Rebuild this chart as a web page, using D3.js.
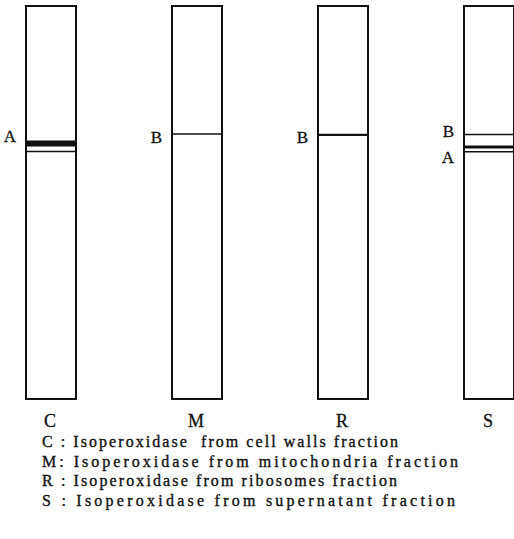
<!DOCTYPE html>
<html>
<head>
<meta charset="utf-8">
<script src="https://cdn.jsdelivr.net/npm/d3@7"></script>
<style>
  html, body { margin: 0; padding: 0; background: #fff; }
  svg { display: block; }
</style>
</head>
<body>
<svg id="chart" width="514" height="539"></svg>
<script>
// ---- data (relative migration distance, % of gel length from top) ----
const lanes = ["C", "M", "R", "S"];
const bandLane = ["C", "C", "M", "R", "S", "S", "S"];
const bandPos = [35.0, 37.0, 32.6, 32.8, 32.7, 35.9, 37.1];
const bandIntensity = [3, 1, 1, 1.4, 1, 1.7, 1];
const bandLabelLane = ["C", "M", "R", "S", "S"];
const bandLabelText = ["A", "B", "B", "B", "A"];
const bandLabelPos = [33.0, 33.3, 33.3, 31.8, 38.5];
const legendLines = [
  "C : Isoperoxidase  from cell walls fraction",
  "M: Isoperoxidase from mitochondria fraction",
  "R : Isoperoxidase from ribosomes fraction",
  "S : Isoperoxidase from supernatant fraction"
];

// ---- layout ----
const FONT = "'Liberation Serif', 'DejaVu Serif', serif";
const gelTop = 6, gelBottom = 399, laneW = 50;
const svg = d3.select("#chart");

const x = d3.scalePoint().domain(lanes).range([51, 489]);
const y = d3.scaleLinear().domain([0, 100]).range([gelTop, gelBottom]);
const sw = d3.scaleLinear().domain([1, 3]).range([1.5, 6]);

// lanes
svg.append("g").selectAll("rect").data(lanes).join("rect")
  .attr("x", d => x(d) - laneW / 2)
  .attr("y", y(0))
  .attr("width", laneW)
  .attr("height", y(100) - y(0))
  .attr("fill", "none")
  .attr("stroke", "#111")
  .attr("stroke-width", 2);

// bands
const bands = bandPos.map((p, i) => ({ lane: bandLane[i], pos: p, k: bandIntensity[i] }));
svg.append("g").selectAll("line").data(bands).join("line")
  .attr("x1", d => x(d.lane) - laneW / 2)
  .attr("x2", d => x(d.lane) + laneW / 2)
  .attr("y1", d => y(d.pos))
  .attr("y2", d => y(d.pos))
  .attr("stroke", "#111")
  .attr("stroke-width", d => sw(d.k));

// band labels
const bl = bandLabelPos.map((p, i) => ({ lane: bandLabelLane[i], t: bandLabelText[i], pos: p }));
svg.append("g").selectAll("text").data(bl).join("text")
  .attr("x", d => x(d.lane) - laneW / 2 - 10)
  .attr("y", d => y(d.pos))
  .attr("dy", "0.35em")
  .attr("text-anchor", "end")
  .attr("font-family", FONT)
  .attr("font-size", 17)
  .attr("fill", "#111")
  .attr("stroke", "#111")
  .attr("stroke-width", 0.3)
  .text(d => d.t);

// lane titles under gels
svg.append("g").selectAll("text").data(lanes).join("text")
  .attr("x", d => x(d) - 1)
  .attr("y", 427)
  .attr("text-anchor", "middle")
  .attr("font-family", FONT)
  .attr("font-size", 18)
  .attr("fill", "#111")
  .attr("stroke", "#111")
  .attr("stroke-width", 0.3)
  .text(d => d);

// legend
const legendY = d3.scaleLinear().domain([0, 3]).range([447, 506]);
const legendLen = [356, 416, 355, 413];
svg.append("g").selectAll("text").data(legendLines).join("text")
  .attr("x", 42)
  .attr("y", (d, i) => legendY(i))
  .attr("font-family", FONT)
  .attr("font-size", 16)
  .attr("fill", "#111")
  .attr("stroke", "#111")
  .attr("stroke-width", 0.35)
  .attr("textLength", (d, i) => legendLen[i])
  .attr("lengthAdjust", "spacing")
  .style("white-space", "pre")
  .text(d => d);
</script>
</body>
</html>
